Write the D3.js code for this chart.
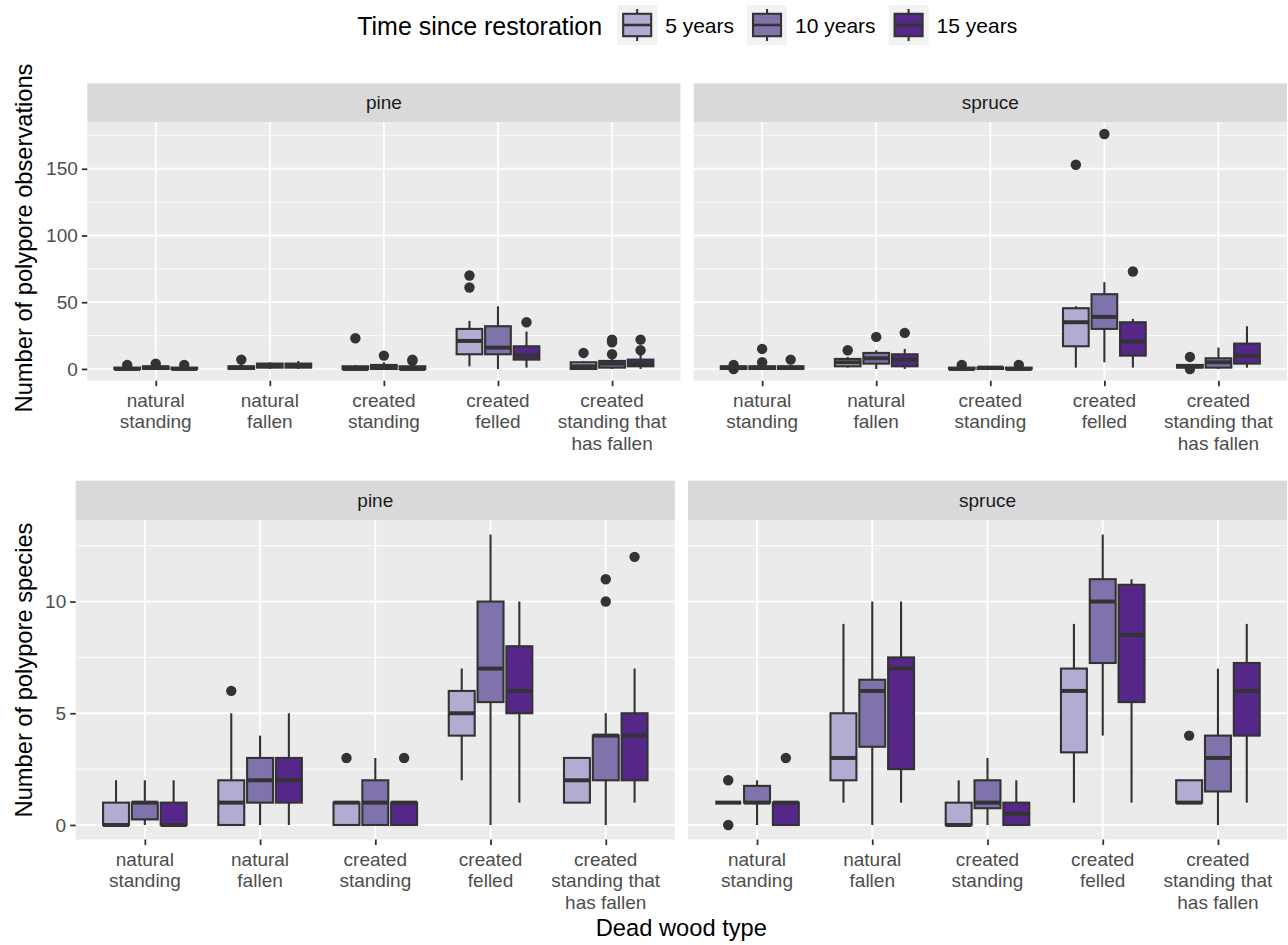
<!DOCTYPE html>
<html>
<head>
<meta charset="utf-8">
<script src="https://cdn.jsdelivr.net/npm/d3@7"></script>
<style>
  body { margin: 0; background: #fff; }
  svg { display: block; font-family: "Liberation Sans", Arial, sans-serif; }
</style>
</head>
<body>
<div id="chart"></div>
<script>
const woodTypes = ["natural standing", "natural fallen", "created standing", "created felled", "created standing that has fallen"];
const woodLabels = [["natural", "standing"], ["natural", "fallen"], ["created", "standing"], ["created", "felled"], ["created", "standing that", "has fallen"]];
const ages = ["5 years", "10 years", "15 years"];
const ageColors = ["#b2abd2", "#8073ac", "#542788"];
const trees = ["pine", "spruce"];

// box stats per wood type x age: [lower whisker, q1, median, q3, upper whisker]
const obsPine = [
    [0, 0, 0, 1, 2], [0, 0, 1, 2, 3], [0, 0, 0, 1, 2],
    [0, 0, 1, 2, 4], [0, 1, 3, 4, 5], [0, 1, 3, 4, 6],
    [0, 0, 0, 2, 3], [0, 0, 1, 3, 5], [0, 0, 0, 2, 4],
    [2, 11, 21, 30, 36], [0, 11, 16, 32, 47], [1, 7, 10, 17, 28],
    [0, 0, 2, 5, 6], [0, 1, 4, 6, 8], [0, 2, 4, 7, 11]
];
const obsPineOut = [[3], [4], [3], [7], [], [], [23], [10], [6, 7], [61, 70], [], [35], [12], [11, 20, 22], [14, 22]];

const obsSpruce = [
    [0, 0, 1, 2, 2], [0, 0, 1, 2, 3], [0, 0, 1, 2, 3],
    [1, 2, 5, 7.5, 9], [0, 4, 8, 12, 14], [0, 2, 7, 11, 15],
    [0, 0, 0, 1, 1], [0, 0, 1, 1, 1], [0, 0, 0, 1, 2],
    [1, 17, 35, 45.5, 47], [5, 30, 39, 56, 65], [1, 10, 20.5, 35, 37.5],
    [1, 1, 2, 3, 3], [0, 1, 5, 8, 16], [1, 4, 10, 19, 32]
];
const obsSpruceOut = [[0, 3], [5, 15], [7], [14], [24], [27], [3], [], [3], [153], [176], [73], [0, 9], [], []];

const sppPine = [
    [0, 0, 0, 1, 2], [0, 0.25, 1, 1, 2], [0, 0, 0, 1, 2],
    [0, 0, 1, 2, 5], [0, 1, 2, 3, 4], [0, 1, 2, 3, 5],
    [0, 0, 1, 1, 1], [0, 0, 1, 2, 3], [0, 0, 1, 1, 1],
    [2, 4, 5, 6, 7], [0, 5.5, 7, 10, 13], [1, 5, 6, 8, 10],
    [1, 1, 2, 3, 3], [0, 2, 4, 4, 5], [1, 2, 4, 5, 7]
];
const sppPineOut = [[], [], [], [6], [], [], [3], [], [3], [], [], [], [], [10, 11], [12]];

const sppSpruce = [
    [1, 1, 1, 1, 1], [0, 1, 1, 1.75, 2], [0, 0, 1, 1, 1],
    [1, 2, 3, 5, 9], [0, 3.5, 6, 6.5, 10], [1, 2.5, 7, 7.5, 10],
    [0, 0, 0, 1, 2], [0, 0.75, 1, 2, 3], [0, 0, 0.5, 1, 2],
    [1, 3.25, 6, 7, 9], [4, 7.25, 10, 11, 13], [1, 5.5, 8.5, 10.75, 11],
    [1, 1, 1, 2, 2], [0, 1.5, 3, 4, 7], [1, 4, 6, 7.25, 9]
];
const sppSpruceOut = [[0, 2], [], [3], [], [], [], [], [], [], [], [], [], [4], [], []];

const obsTicks = [0, 50, 100, 150];
const sppTicks = [0, 5, 10];

const width = 1288, height = 945;
const svg = d3.select("#chart").append("svg")
    .attr("width", width)
    .attr("height", height);

const ink = "#333333";
const lw = 2.1;
const rows = [
    {stripTop: 83.3, stripH: 39, panelH: 258.4, left: 87.3, panelW: 593.2, gap: 13.2,
     ticks: obsTicks, title: "Number of polypore observations", titleY: 238,
     stats: [obsPine, obsSpruce], outs: [obsPineOut, obsSpruceOut]},
    {stripTop: 480.7, stripH: 39.3, panelH: 319.5, left: 75.7, panelW: 599.2, gap: 13,
     ticks: sppTicks, title: "Number of polypore species", titleY: 670,
     stats: [sppPine, sppSpruce], outs: [sppPineOut, sppSpruceOut]}
];

rows.forEach(row => {
    const panelTop = row.stripTop + row.stripH;
    const panelBottom = panelTop + row.panelH;

    // y domain from data, expanded by 5%
    const allVals = row.stats.flat(2).concat(row.outs.flat(2));
    const [lo, hi] = d3.extent(allVals);
    const pad = (hi - lo) * 0.05;
    const y = d3.scaleLinear().domain([lo - pad, hi + pad]).range([panelBottom, panelTop]);

    const step = row.ticks[1] - row.ticks[0];
    const minor = d3.range(row.ticks[0] - step / 2, hi + pad, step).filter(v => v > lo - pad);

    trees.forEach((tree, p) => {
        const left = row.left + p * (row.panelW + row.gap);
        const u = row.panelW / 5.2;
        const x = d3.scalePoint().domain(woodTypes).range([left + 0.6 * u, left + row.panelW - 0.6 * u]);
        const dodge = d3.scaleBand().domain(ages)
            .range([-0.375 * u, 0.375 * u])
            .paddingInner(0.1).paddingOuter(0.05);

        const g = svg.append("g");

        // strip
        g.append("rect")
            .attr("x", left).attr("y", row.stripTop)
            .attr("width", row.panelW).attr("height", row.stripH)
            .attr("fill", "#d9d9d9");
        g.append("text")
            .attr("x", left + row.panelW / 2)
            .attr("y", row.stripTop + row.stripH / 2)
            .attr("dy", "0.35em")
            .attr("text-anchor", "middle")
            .attr("font-size", 19)
            .attr("fill", "#1a1a1a")
            .text(tree);

        // panel background + grid
        g.append("rect")
            .attr("x", left).attr("y", panelTop)
            .attr("width", row.panelW).attr("height", row.panelH)
            .attr("fill", "#ebebeb");

        g.selectAll(".minor").data(minor).enter().append("line")
            .attr("x1", left).attr("x2", left + row.panelW)
            .attr("y1", d => y(d)).attr("y2", d => y(d))
            .attr("stroke", "#fff").attr("stroke-width", 0.9);
        g.selectAll(".hmajor").data(row.ticks).enter().append("line")
            .attr("x1", left).attr("x2", left + row.panelW)
            .attr("y1", d => y(d)).attr("y2", d => y(d))
            .attr("stroke", "#fff").attr("stroke-width", 1.8);
        g.selectAll(".vmajor").data(woodTypes).enter().append("line")
            .attr("x1", d => x(d)).attr("x2", d => x(d))
            .attr("y1", panelTop).attr("y2", panelBottom)
            .attr("stroke", "#fff").attr("stroke-width", 1.8);

        // boxes
        woodTypes.forEach((type, i) => {
            ages.forEach((age, j) => {
                const s = row.stats[p][i * 3 + j];
                const out = row.outs[p][i * 3 + j];
                const x0 = x(type) + dodge(age);
                const bw = dodge.bandwidth();
                const cx = x0 + bw / 2;

                g.selectAll(null).data(out).enter().append("circle")
                    .attr("cx", cx).attr("cy", d => y(d)).attr("r", 5.2)
                    .attr("fill", ink);

                g.append("line")
                    .attr("x1", cx).attr("x2", cx)
                    .attr("y1", y(s[0])).attr("y2", y(s[1]))
                    .attr("stroke", ink).attr("stroke-width", lw);
                g.append("line")
                    .attr("x1", cx).attr("x2", cx)
                    .attr("y1", y(s[3])).attr("y2", y(s[4]))
                    .attr("stroke", ink).attr("stroke-width", lw);
                g.append("rect")
                    .attr("x", x0).attr("y", y(s[3]))
                    .attr("width", bw).attr("height", y(s[1]) - y(s[3]))
                    .attr("fill", ageColors[j])
                    .attr("stroke", ink).attr("stroke-width", lw);
                g.append("line")
                    .attr("x1", x0).attr("x2", x0 + bw)
                    .attr("y1", y(s[2])).attr("y2", y(s[2]))
                    .attr("stroke", ink).attr("stroke-width", 4);
            });
        });

        // x axis
        const xAxis = g.append("g")
            .attr("transform", `translate(0,${panelBottom})`)
            .call(d3.axisBottom(x).tickSize(5.5).tickFormat(""));
        xAxis.select(".domain").remove();
        xAxis.selectAll("line").attr("stroke", ink).attr("stroke-width", 1.8);

        woodTypes.forEach((type, i) => {
            const t = g.append("text")
                .attr("text-anchor", "middle")
                .attr("font-size", 19)
                .attr("fill", "#4d4d4d");
            woodLabels[i].forEach((line, k) => {
                t.append("tspan")
                    .attr("x", x(type))
                    .attr("y", panelBottom + 26 + k * 21.7)
                    .text(line);
            });
        });

        // y axis only on the left panel
        if (p === 0) {
            const yAxis = g.append("g")
                .attr("transform", `translate(${left},0)`)
                .call(d3.axisLeft(y).tickValues(row.ticks).tickSize(5.5).tickPadding(4));
            yAxis.select(".domain").remove();
            yAxis.selectAll("line").attr("stroke", ink).attr("stroke-width", 1.8);
            yAxis.selectAll("text")
                .attr("font-size", 19)
                .attr("fill", "#4d4d4d")
                .attr("font-family", null);
        }
    });

    // y title
    svg.append("text")
        .attr("transform", `translate(32,${row.titleY}) rotate(-90)`)
        .attr("text-anchor", "middle")
        .attr("font-size", 23.7)
        .attr("fill", "#000")
        .text(row.title);
});

// x title
svg.append("text")
    .attr("x", (75.7 + 1287) / 2)
    .attr("y", 936)
    .attr("text-anchor", "middle")
    .attr("font-size", 23.7)
    .attr("fill", "#000")
    .text("Dead wood type");

// legend
const legend = svg.append("g");
const keySize = 40;
let lx = 0;
const lt = legend.append("text")
    .attr("x", 0).attr("y", 26).attr("dy", "0.35em")
    .attr("font-size", 25)
    .text("Time since restoration");
lx += lt.node().getComputedTextLength() + 15;

ages.forEach((age, j) => {
    const kg = legend.append("g").attr("transform", `translate(${lx},${25 - keySize / 2})`);
    kg.append("rect").attr("width", keySize).attr("height", keySize).attr("fill", "#f2f2f2");
    kg.append("line")
        .attr("x1", keySize / 2).attr("x2", keySize / 2)
        .attr("y1", keySize * 0.1).attr("y2", keySize * 0.9)
        .attr("stroke", ink).attr("stroke-width", lw);
    kg.append("rect")
        .attr("x", keySize * 0.15).attr("y", keySize * 0.22)
        .attr("width", keySize * 0.7).attr("height", keySize * 0.56)
        .attr("fill", ageColors[j])
        .attr("stroke", ink).attr("stroke-width", lw);
    kg.append("line")
        .attr("x1", keySize * 0.15).attr("x2", keySize * 0.85)
        .attr("y1", keySize / 2).attr("y2", keySize / 2)
        .attr("stroke", ink).attr("stroke-width", 2.6);
    lx += keySize + 8;
    const t = legend.append("text")
        .attr("x", lx).attr("y", 26).attr("dy", "0.35em")
        .attr("font-size", 21)
        .text(age);
    lx += t.node().getComputedTextLength() + (j < ages.length - 1 ? 13 : 0);
});
legend.attr("transform", `translate(${(87.3 + 1287) / 2 - lx / 2},0)`);
</script>
</body>
</html>
